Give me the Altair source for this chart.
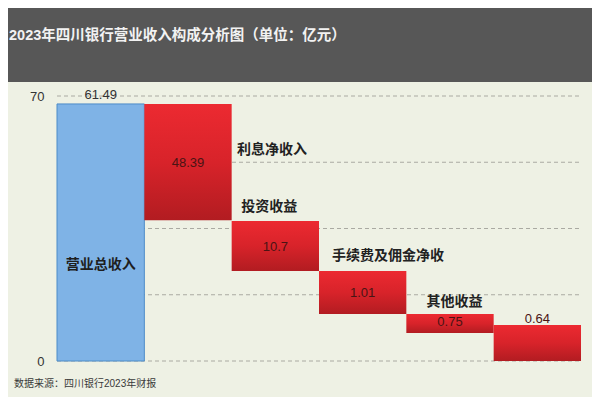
import altair as alt
import pandas as pd

# ---- data ----
categories = ["营业总收入", "利息净收入", "投资收益", "手续费及佣金净收", "其他收益", "其他"]
value_labels = ["61.49", "48.39", "10.7", "1.01", "0.75", "0.64"]
bar_left = [0, 1, 2, 3, 4, 5]
bar_right = [1, 2, 3, 4, 5, 6]
bar_top = [67.9, 67.9, 37.0, 23.8, 12.4, 9.5]
bar_bottom = [0, 37.2, 23.8, 12.4, 7.4, 0]
bar_kind = ["total", "part", "part", "part", "part", "part"]
value_label_x = [0.5, 1.5, 2.5, 3.5, 4.5, 5.5]
value_label_y = [70.3, 52.3, 30.1, 18.0, 10.3, 11.1]

name_labels = ["利息净收入", "投资收益", "手续费及佣金净收", "其他收益"]
name_label_x = [2.06, 2.11, 3.15, 4.23]
name_label_y = [55.7, 40.7, 27.7, 15.6]

inner_label = ["营业总收入"]
inner_label_x = [0.5]
inner_label_y = [25.4]

grid_values = [0, 17.5, 35, 52.5, 70]
axis_values = [0, 70]

title_text = "2023年四川银行营业收入构成分析图（单位：亿元）"
source_text = "数据来源：四川银行2023年财报"

FONT = "Liberation Sans, Noto Sans CJK SC"
CJK = "Noto Sans CJK SC"

bars = pd.DataFrame({
    "cat": categories, "x0": bar_left, "x1": bar_right,
    "top": bar_top, "bottom": bar_bottom, "kind": bar_kind,
})
vals = pd.DataFrame({"label": value_labels, "x": value_label_x, "y": value_label_y,
                     "kind": bar_kind})
names = pd.DataFrame({"label": name_labels, "x": name_label_x, "y": name_label_y})
inner = pd.DataFrame({"label": inner_label, "x": inner_label_x, "y": inner_label_y})
grid = pd.DataFrame({"v": grid_values})
one = pd.DataFrame({"t": [title_text], "s": [source_text]})

xscale = alt.Scale(domain=[0, 6], nice=False, zero=False)
yscale = alt.Scale(domain=[0, 70], nice=False)

# title band
band = alt.Chart(one).mark_rect(color="#575757", clip=False).encode(
    x=alt.value(-49), x2=alt.value(535), y=alt.value(-88), y2=alt.value(-14)
)
title = alt.Chart(one).mark_text(
    align="left", baseline="middle", fontSize=14.5, fontWeight="bold",
    color="#f2f2f2", font=FONT, clip=False
).encode(x=alt.value(-48), y=alt.value(-60), text="t:N")

source = alt.Chart(one).mark_text(
    align="left", baseline="middle", fontSize=10, color="#3a3a3a", font=FONT, clip=False
).encode(x=alt.value(-43), y=alt.value(288), text="s:N")

gridlines = alt.Chart(grid).mark_rule(
    color="#aaaaa2", strokeDash=[4, 3], strokeWidth=1
).encode(
    y=alt.Y("v:Q", scale=yscale,
            axis=alt.Axis(values=axis_values, grid=False, domain=False, ticks=False,
                          tickSize=0, labelFontSize=13, labelColor="#333333",
                          labelPadding=13, labelFont=FONT, title=None)),
    x=alt.value(0), x2=alt.value(524),
)

red_grad = alt.Gradient(
    gradient="linear",
    stops=[alt.GradientStop(color="#ec2a31", offset=0),
           alt.GradientStop(color="#d8232a", offset=0.5),
           alt.GradientStop(color="#b21c21", offset=1)],
    x1=0, x2=0, y1=0, y2=1,
)

blue_bar = alt.Chart(bars).transform_filter(alt.datum.kind == "total").mark_rect(
    color="#7fb3e6", stroke="#4d8cc8", strokeWidth=1
).encode(
    x=alt.X("x0:Q", scale=xscale, axis=None), x2="x1:Q",
    y=alt.Y("top:Q", scale=yscale), y2="bottom:Q",
)
red_bars = alt.Chart(bars).transform_filter(alt.datum.kind == "part").mark_rect(
    color=red_grad
).encode(
    x=alt.X("x0:Q", scale=xscale, axis=None), x2="x1:Q",
    y=alt.Y("top:Q", scale=yscale), y2="bottom:Q",
)

val_text = alt.Chart(vals).mark_text(
    align="center", baseline="middle", fontSize=13, font=FONT
).encode(
    x=alt.X("x:Q", scale=xscale, axis=None),
    y=alt.Y("y:Q", scale=yscale),
    text="label:N",
    color=alt.Color("kind:N", scale=alt.Scale(domain=["total", "part"],
                                              range=["#333333", "#4a1414"]), legend=None),
)

name_text = alt.Chart(names).mark_text(
    align="left", baseline="middle", fontSize=14, fontWeight="bold",
    color="#222222", font=CJK
).encode(
    x=alt.X("x:Q", scale=xscale, axis=None),
    y=alt.Y("y:Q", scale=yscale),
    text="label:N",
)

inner_text = alt.Chart(inner).mark_text(
    align="center", baseline="middle", fontSize=14, fontWeight="bold",
    color="#1e1e1e", font=CJK
).encode(
    x=alt.X("x:Q", scale=xscale, axis=None),
    y=alt.Y("y:Q", scale=yscale),
    text="label:N",
)

chart = alt.layer(
    band, title, source, gridlines, blue_bar, red_bars, val_text, name_text, inner_text
).properties(
    width=524, height=265,
    padding={"left": 49, "top": 88, "right": 11, "bottom": 36},
    autosize="none",
    background="#eef1e4",
).configure_view(stroke=None)

chart.save("out.html", embed_options={"renderer": "svg", "actions": False})
